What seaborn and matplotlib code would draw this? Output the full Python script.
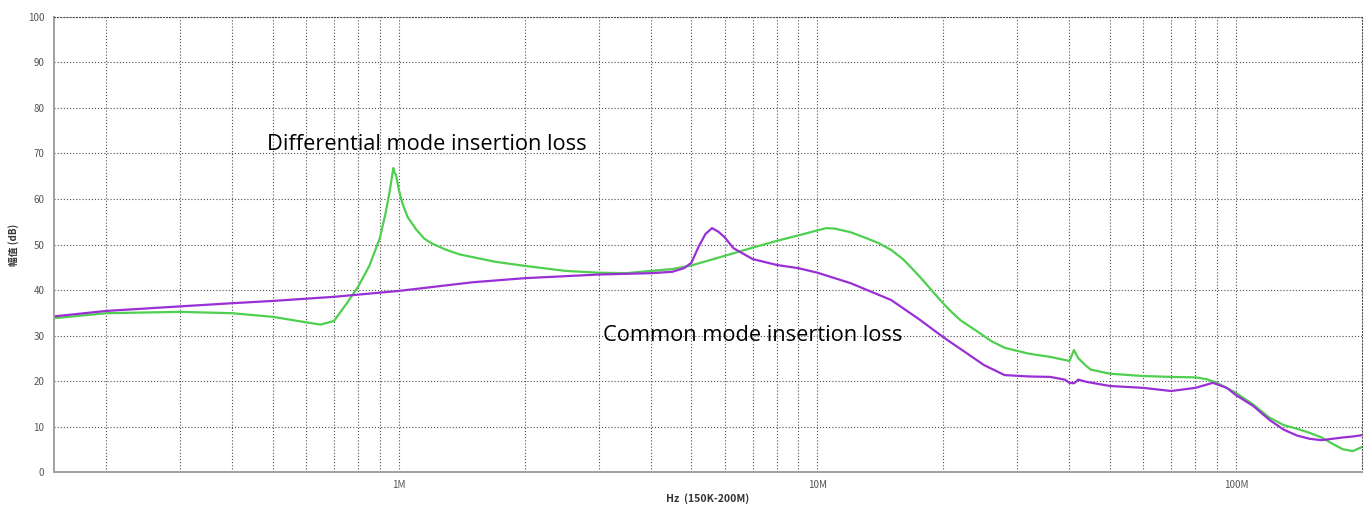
"""
plot.py
───────
Insertion loss of an EMI filter, differential vs common mode,
150 kHz – 200 MHz on a log axis.
"""

import numpy as np
import pandas as pd
import matplotlib
matplotlib.use('Agg')
import matplotlib.pyplot as plt
from matplotlib.ticker import FixedLocator, FixedFormatter, NullFormatter, MultipleLocator
import seaborn as sns


# ── data ──────────────────────────────────────────────────────────────────────

DM_FREQ = [150e3, 200e3, 300e3, 400e3, 500e3, 600e3, 650e3, 700e3, 750e3,
           800e3, 850e3, 900e3, 930e3, 950e3, 965e3, 970e3, 975e3, 985e3,
           1.0e6, 1.02e6, 1.05e6, 1.1e6, 1.15e6, 1.2e6, 1.3e6, 1.4e6, 1.7e6,
           2.0e6, 2.5e6, 3.0e6, 3.5e6, 4.0e6, 4.5e6, 5.0e6, 6.0e6, 7.0e6,
           8.0e6, 9.0e6, 10e6, 10.5e6, 11e6, 12e6, 13e6, 14e6, 15e6, 16e6,
           17e6, 18e6, 19e6, 20e6, 21e6, 22e6, 24e6, 26e6, 28e6, 32e6, 36e6,
           40e6, 41e6, 42e6, 44e6, 45e6, 50e6, 60e6, 70e6, 80e6, 85e6, 90e6,
           100e6, 110e6, 120e6, 130e6, 140e6, 150e6, 160e6, 170e6, 180e6,
           190e6, 200e6]
DM_DB   = [33.8, 34.9, 35.2, 34.9, 34.1, 32.9, 32.4, 33.2, 37.0,
           40.8, 45.3, 51.3, 57.0, 61.5, 65.5, 66.8, 66.0, 65.2,
           62.0, 59.0, 56.0, 53.3, 51.3, 50.2, 48.8, 47.8, 46.2,
           45.3, 44.2, 43.8, 43.7, 44.2, 44.6, 45.4, 47.5, 49.3,
           50.8, 52.0, 53.1, 53.6, 53.5, 52.7, 51.5, 50.3, 48.8, 46.8,
           44.3, 41.8, 39.3, 37.0, 35.0, 33.3, 31.0, 28.8, 27.3, 26.0, 25.3,
           24.4, 26.8, 25.0, 23.2, 22.5, 21.6, 21.1, 20.9, 20.8, 20.4, 19.6,
           17.4, 14.8, 12.0, 10.3, 9.5, 8.6, 7.6, 6.2, 5.0,
           4.6, 5.5]

CM_FREQ = [150e3, 200e3, 300e3, 400e3, 500e3, 700e3, 1.0e6, 1.5e6, 2.0e6,
           3.0e6, 4.0e6, 4.5e6, 4.8e6, 5.0e6, 5.2e6, 5.4e6, 5.6e6, 5.8e6,
           6.0e6, 6.3e6, 7.0e6, 8.0e6, 9.0e6, 10e6, 12e6, 15e6, 17.6e6,
           20e6, 22e6, 25e6, 28e6, 32e6, 36e6, 39e6, 40e6, 41e6, 42e6, 44e6,
           50e6, 60e6, 70e6, 80e6, 88e6, 95e6, 100e6, 110e6, 120e6, 130e6,
           140e6, 150e6, 160e6, 170e6, 180e6, 190e6, 200e6]
CM_DB   = [34.2, 35.4, 36.4, 37.1, 37.6, 38.5, 39.8, 41.7, 42.6,
           43.4, 43.7, 44.0, 44.8, 46.0, 49.5, 52.3, 53.6, 52.8,
           51.6, 49.2, 46.8, 45.5, 44.8, 43.8, 41.5, 37.8, 33.4,
           29.6, 27.0, 23.5, 21.3, 21.0, 20.9, 20.3, 19.6, 19.5, 20.3, 19.8,
           18.9, 18.5, 17.8, 18.5, 19.6, 18.5, 16.9, 14.5, 11.5, 9.3,
           8.0, 7.3, 7.0, 7.3, 7.6, 7.8, 8.1]

X_TICKS       = [1e6, 10e6, 100e6]
X_TICK_LABELS = ['1M', '10M', '100M']
Y_TICKS       = list(range(0, 101, 10))

DM_LABEL = 'Differential mode insertion loss'
CM_LABEL = 'Common mode insertion loss'

GREEN  = '#4fcf4f'
PURPLE = '#9a2fd6'
GRID   = '#505050'


# ── figure ─────────────────────────────────────────────────────────────────────

sns.set_style('white')
plt.rcParams['font.family'] = ['Noto Sans CJK SC', 'DejaVu Sans']

df = pd.concat([
    pd.DataFrame({'freq': DM_FREQ, 'db': DM_DB, 'mode': 'DM'}),
    pd.DataFrame({'freq': CM_FREQ, 'db': CM_DB, 'mode': 'CM'}),
])

fig = plt.figure(figsize=(13.7, 5.07), dpi=100)
ax = fig.add_axes([0.0394, 0.069, 0.9548, 0.8975])

sns.lineplot(data=df, x='freq', y='db', hue='mode', hue_order=['DM', 'CM'],
             palette={'DM': GREEN, 'CM': PURPLE}, linewidth=1.6,
             legend=False, ax=ax, sort=False, estimator=None)

ax.set_xscale('log')
ax.set_xlim(150e3, 200e6)
ax.set_ylim(0, 100)

# ticks
ax.xaxis.set_major_locator(FixedLocator(X_TICKS))
ax.xaxis.set_major_formatter(FixedFormatter(X_TICK_LABELS))
minor = [m * 10 ** p for p in range(5, 9) for m in range(2, 10)]
ax.xaxis.set_minor_locator(FixedLocator([v for v in minor if 150e3 < v < 200e6]))
ax.xaxis.set_minor_formatter(NullFormatter())
ax.yaxis.set_major_locator(FixedLocator(Y_TICKS))
ax.yaxis.set_minor_locator(MultipleLocator(5))

ax.tick_params(axis='x', which='both', length=0, labelsize=7,
               labelcolor='#555555', pad=6)
ax.tick_params(axis='y', which='major', length=4, width=0.8, color='#333333',
               labelsize=7, labelcolor='#555555', pad=3)
ax.tick_params(axis='y', which='minor', length=2, width=0.8, color='#333333')

# grid
dots = (0, (1, 1.8))
ax.grid(True, axis='x', which='both', color=GRID, linestyle=dots, linewidth=0.8)
ax.grid(True, axis='y', which='major', color=GRID, linestyle=dots, linewidth=0.8)

for side in ['left', 'bottom']:
    ax.spines[side].set_color('#a0a0a0')
    ax.spines[side].set_linewidth(1.4)
for side in ['top', 'right']:
    ax.spines[side].set_color(GRID)
    ax.spines[side].set_linestyle(dots)
    ax.spines[side].set_linewidth(0.8)

ax.set_xlabel('Hz  (150K-200M)', fontsize=7.5, fontweight='bold',
              color='#333333', labelpad=2)
ax.set_ylabel('幅值 (dB)', fontsize=7, fontweight='bold', color='#333333',
              labelpad=6)

# curve annotations
ax.text(484e3, 71.9, DM_LABEL, fontsize=15.7, color='black',
        ha='left', va='center', family=['Open Sans', 'DejaVu Sans'])
ax.text(3.07e6, 30.1, CM_LABEL, fontsize=15.7, color='black',
        ha='left', va='center', family=['Open Sans', 'DejaVu Sans'])

fig.savefig('out.png', dpi=100)
plt.close(fig)
